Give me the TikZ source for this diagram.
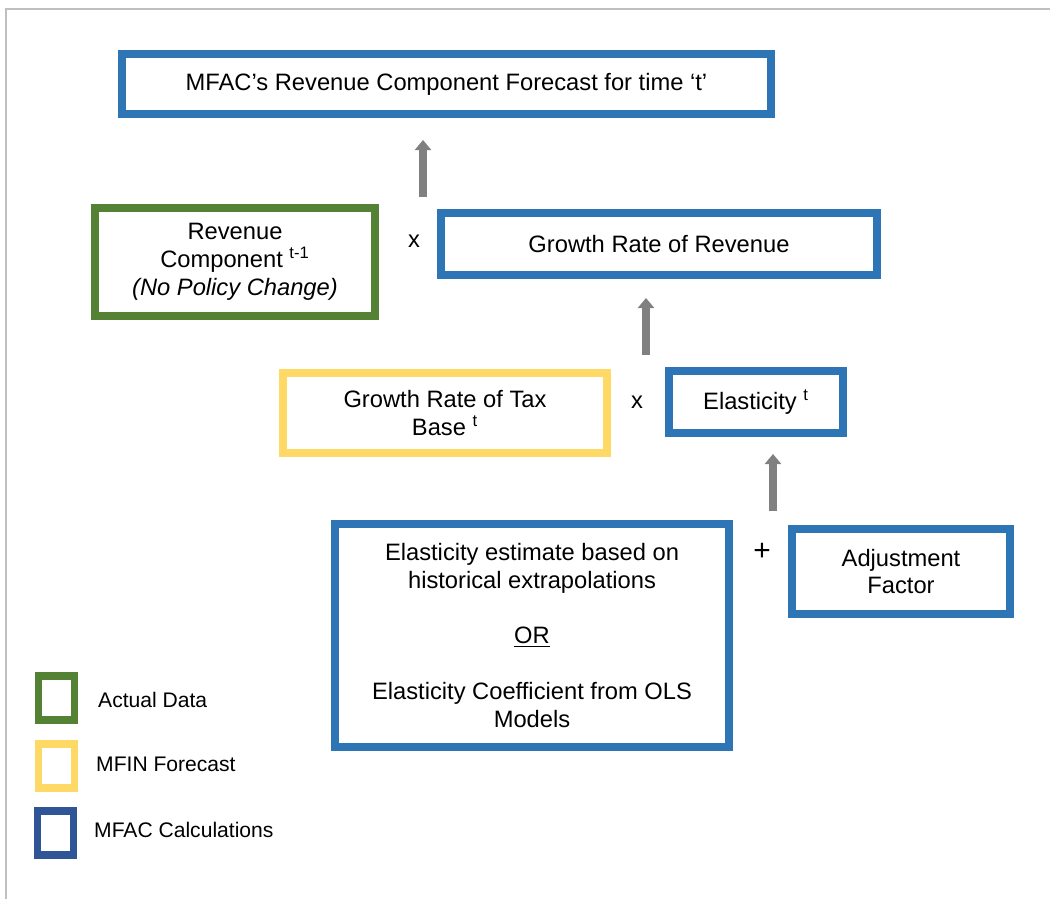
\documentclass[tikz,border=0pt]{standalone}
\usepackage{fontspec}
\setmainfont{Liberation Sans}
\usetikzlibrary{arrows.meta}

\definecolor{mfacblue}{HTML}{2E75B6}
\definecolor{datagreen}{HTML}{548235}
\definecolor{mfinyellow}{HTML}{FFD966}
\definecolor{legendblue}{HTML}{2F5597}
\definecolor{arrowgray}{HTML}{808080}
\definecolor{framegray}{HTML}{BFBFBF}

\begin{document}
\begin{tikzpicture}[x=0.02cm,y=-0.02cm,
  box/.style={draw,line width=0.16cm,align=center,inner sep=0pt,font=\fontsize{13.5}{15.8}\selectfont},
  upar/.style={arrowgray,line width=0.16cm,-{Triangle[width=0.32cm,length=0.2cm]}},
  key/.style={draw,line width=0.15cm,minimum width=0.72cm,minimum height=0.88cm,inner sep=0pt},
  op/.style={font=\fontsize{13.5}{15.5}\selectfont},
  keytext/.style={anchor=west,font=\fontsize{12}{14}\selectfont}]
\useasboundingbox (0,0) rectangle (1050,899);
\draw [framegray,line width=1pt] (6,899) -- (6,9) -- (1050,9);
\node [box,mfacblue,minimum width=12.98cm,minimum height=1.2cm,text=black] (forecast) at (446.5,84) {MFAC’s Revenue Component Forecast for time ‘t’};
\node [box,datagreen,minimum width=5.6cm,minimum height=2.16cm,text=black] (revprev) at (235,262) {Revenue\\Component \textsuperscript{t-1}\\\textit{(No Policy Change)}};
\node [box,mfacblue,minimum width=8.72cm,minimum height=1.24cm,text=black] (growthrev) at (659,244) {Growth Rate of Revenue};
\node [box,mfinyellow,minimum width=6.48cm,minimum height=1.6cm,text=black] (growthbase) at (445,413) {Growth Rate of Tax\\Base \textsuperscript{t}};
\node [box,mfacblue,minimum width=3.48cm,minimum height=1.24cm,text=black] (elast) at (756,402) {Elasticity \textsuperscript{t}};
\node [box,mfacblue,minimum width=7.88cm,minimum height=4.46cm,text=black] (estimate) at (532,635.5) {Elasticity estimate based on\\historical extrapolations\\[15.8pt]\underline{OR}\\[15.8pt]Elasticity Coefficient from OLS\\Models};
\node [box,mfacblue,minimum width=4.36cm,minimum height=1.7cm,text=black] (adjust) at (901,571.5) {Adjustment\\Factor};
\node [op] (times1) at (414,241) {x};
\node [op] (times2) at (637,402) {x};
\node [op,font=\fontsize{17}{19}\selectfont] (plus) at (762,552) {+};
\coordinate (a1s) at (423,197); \coordinate (a1e) at (423,140);
\coordinate (a2s) at (646,355); \coordinate (a2e) at (646,298);
\coordinate (a3s) at (773,511); \coordinate (a3e) at (773,454);
\draw [upar] (a1s) -- (a1e);
\draw [upar] (a2s) -- (a2e);
\draw [upar] (a3s) -- (a3e);
\node [key,datagreen] (keydata) at (56.5,698) {};
\node [key,mfinyellow] (keymfin) at (56.5,766) {};
\node [key,legendblue] (keymfac) at (55.5,833) {};
\node [keytext] (labdata) at (92,700) {Actual Data};
\node [keytext] (labmfin) at (90,764) {MFIN Forecast};
\node [keytext] (labmfac) at (88,830) {MFAC Calculations};
\end{tikzpicture}
\end{document}
